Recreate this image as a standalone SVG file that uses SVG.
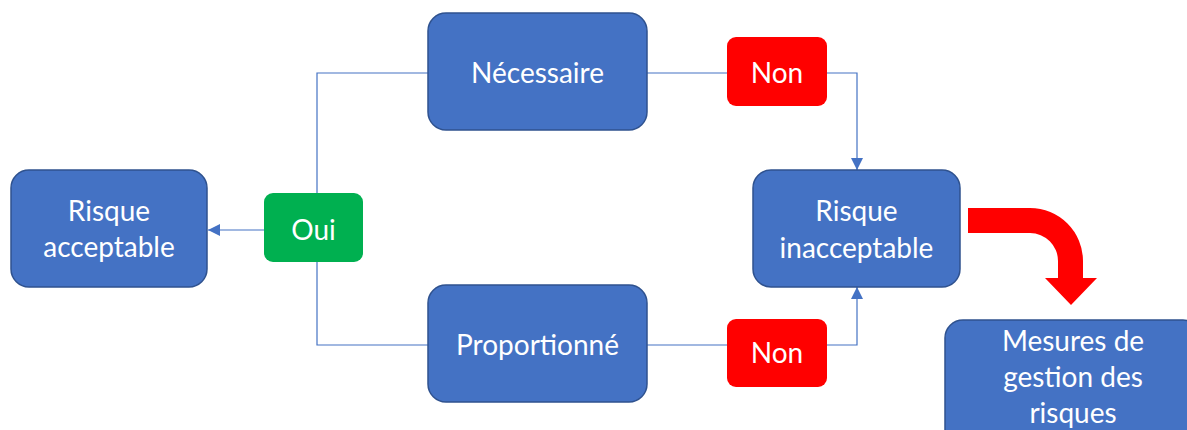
<svg xmlns="http://www.w3.org/2000/svg" width="1187" height="430" viewBox="0 0 1187 430">
<style>
.box{fill:#4472C4;stroke:#2F528F;stroke-width:1.5}
.no{fill:#FF0000}
.yes{fill:#00B050}
.t{font-family:Lato,"Liberation Sans",sans-serif;font-size:28px;fill:#FFFFFF;text-anchor:middle}
.c{fill:none;stroke:#4472C4;stroke-width:1.2}
</style>
<defs>
<marker id="ah" viewBox="0 0 10 10" refX="10" refY="5" markerWidth="12" markerHeight="12" markerUnits="userSpaceOnUse" orient="auto">
<path d="M0,0 L10,5 L0,10 Z" fill="#4472C4"/>
</marker>
</defs>
<rect width="1187" height="430" fill="#FFFFFF"/>
<g id="connectors">
<path class="c" d="M264,230 H208" marker-end="url(#ah)"/>
<path class="c" d="M317,193 V73 H428"/>
<path class="c" d="M317,262 V345 H428"/>
<path class="c" d="M647,73 H727"/>
<path class="c" d="M827,73 H857 V170" marker-end="url(#ah)"/>
<path class="c" d="M647,345 H727"/>
<path class="c" d="M827,345 H857 V287" marker-end="url(#ah)"/>
<path d="M968,208 H1030 A53,53 0 0 1 1083,261 V278 H1097 L1071,305 L1045,278 H1058 V261 A28,28 0 0 0 1030,233 H968 Z" fill="#FF0000"/>
</g>
<g id="risque-acceptable">
<rect class="box" x="11" y="170" width="196" height="117" rx="18"/>
<text class="t" x="109" y="221">Risque</text>
<text class="t" x="109" y="257">acceptable</text>
</g>
<g id="oui">
<rect class="yes" x="264" y="193" width="99" height="69" rx="9"/>
<text class="t" x="313.5" y="240">Oui</text>
</g>
<g id="necessaire">
<rect class="box" x="428" y="13" width="219" height="117" rx="18"/>
<text class="t" x="537.5" y="83">Nécessaire</text>
</g>
<g id="non-1">
<rect class="no" x="727" y="37" width="100" height="69" rx="9"/>
<text class="t" x="777" y="83">Non</text>
</g>
<g id="proportionne">
<rect class="box" x="428" y="285" width="219" height="117" rx="18"/>
<text class="t" x="537.5" y="355">Proportionné</text>
</g>
<g id="non-2">
<rect class="no" x="727" y="319" width="100" height="68" rx="9"/>
<text class="t" x="777" y="363">Non</text>
</g>
<g id="risque-inacceptable">
<rect class="box" x="753" y="170" width="207" height="117" rx="18"/>
<text class="t" x="856.5" y="221">Risque</text>
<text class="t" x="856.5" y="258">inacceptable</text>
</g>
<g id="mesures">
<rect class="box" x="945" y="320" width="256" height="130" rx="18"/>
<text class="t" x="1073" y="351">Mesures de</text>
<text class="t" x="1073" y="387">gestion des</text>
<text class="t" x="1073" y="423">risques</text>
</g>
</svg>
